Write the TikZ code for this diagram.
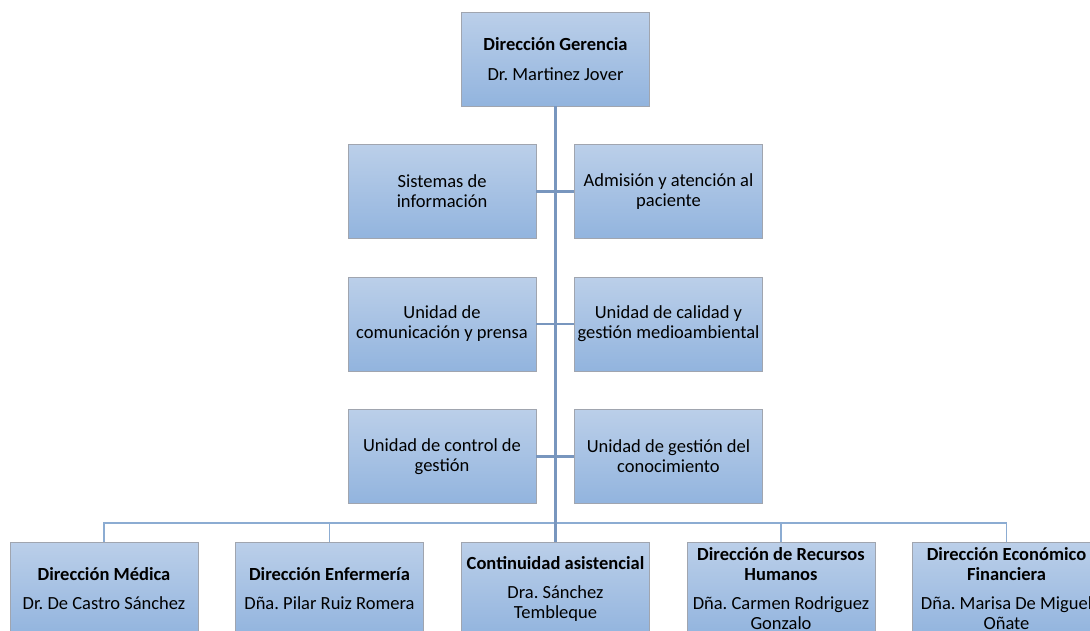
\documentclass[tikz,border=0pt]{standalone}
\usepackage{fontspec}
\setmainfont{Carlito}
\usepackage{tikz}

\definecolor{boxtop}{RGB}{187,207,233}
\definecolor{boxbot}{RGB}{146,180,222}
\definecolor{boxline}{RGB}{160,165,175}
\definecolor{trunk}{RGB}{120,150,190}
\definecolor{branch}{RGB}{140,172,210}

\begin{document}
\begin{tikzpicture}[x=1pt,y=-1pt,
        unit/.style={
          draw=boxline, top color=boxtop, bottom color=boxbot,
          minimum width=188pt, minimum height=94pt, inner sep=0pt,
          align=center, font=\fontsize{18.5}{20}\selectfont\frenchspacing
        },
        trunkline/.style={color=trunk, line width=2.2pt},
        branchline/.style={color=branch, line width=1.4pt}
      ]
      \useasboundingbox (0,0) rectangle (1090,630);
      % direccion gerencia
      \node [unit] (dg) at (555.5,59) {\textbf{Dirección Gerencia}\\[10pt]Dr. Martinez Jover};
      % unidades de apoyo
      \node [unit] (si) at (442,191.5) {Sistemas de\\información};
      \node [unit] (ap) at (668.5,191.5) {Admisión y atención al\\paciente};
      \node [unit] (uc) at (442,324) {Unidad de\\comunicación y prensa};
      \node [unit] (ug) at (668.5,324) {Unidad de calidad y\\gestión medioambiental};
      \node [unit] (cg) at (442,456.5) {Unidad de control de\\gestión};
      \node [unit] (gc) at (668.5,456.5) {Unidad de gestión del\\conocimiento};
      % direcciones
      \node [unit] (dm) at (104,589) {\textbf{Dirección Médica}\\[9pt]Dr. De Castro Sánchez};
      \node [unit] (de) at (329.5,589) {\textbf{Dirección Enfermería}\\[9pt]Dña. Pilar Ruiz Romera};
      \node [unit] (ca) at (555.5,589) {\textbf{Continuidad asistencial}\\[9pt]Dra. Sánchez\\Tembleque};
      \node [unit] (rh) at (781,589) {\textbf{Dirección de Recursos}\\\textbf{Humanos}\\[9pt]Dña. Carmen Rodriguez\\Gonzalo};
      \node [unit] (ef) at (1006.5,589) {\textbf{Dirección Económico}\\\textbf{Financiera}\\[9pt]Dña. Marisa De Miguel\\Oñate};
      \coordinate (bus) at (555.5,523);
      % conectores
      \draw [branchline] (dm.north) |- (bus) -| (ef.north);
      \draw [branchline] (de.north) |- (bus) -| (rh.north);
      \draw [trunkline] (dg.south) -- (ca.north);
      \foreach \a in {si,uc,cg} {
        \draw [trunkline] (\a.east) -- (\a.east -| dg.south);
      }
      \foreach \a in {ap,ug,gc} {
        \draw [trunkline] (\a.west) -- (\a.west -| dg.south);
      }
    \end{tikzpicture}
\end{document}
